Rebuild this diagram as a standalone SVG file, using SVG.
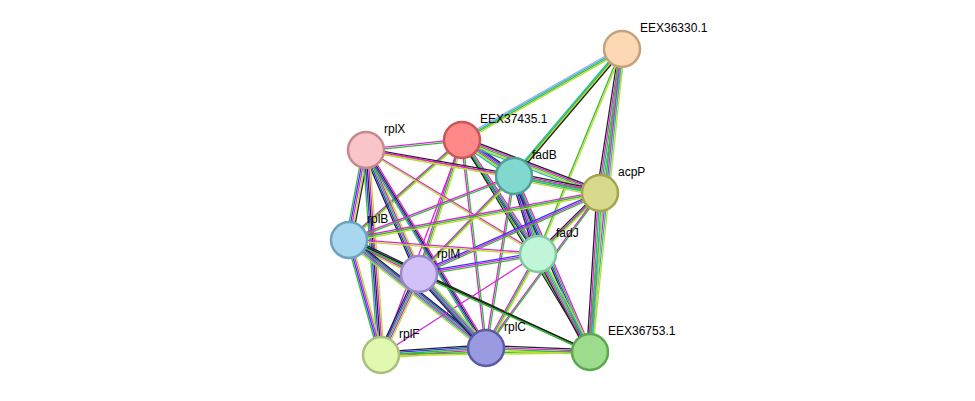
<svg xmlns="http://www.w3.org/2000/svg" width="975" height="401" viewBox="0 0 975 401">
<style>
line{stroke-width:1.3}
.k{stroke:#222}.b{stroke:#33f}.g{stroke:#3b3}.m{stroke:#d2d}.y{stroke:#bd3}.c{stroke:#2bb}.p{stroke:#aaf}
circle{stroke-width:2.5}
text{font-family:"Liberation Sans",Arial,sans-serif;font-size:12px;fill:#000}
</style>
<rect width="975" height="401" fill="#fff"/>
<g id="connectors">
<!-- A-E -->
<line class="p" x1="622" y1="49" x2="462" y2="140" transform="translate(0,-2.4)"/><line class="c" x1="622" y1="49" x2="462" y2="140" transform="translate(0,-0.8)"/><line class="g" x1="622" y1="49" x2="462" y2="140" transform="translate(0,0.8)"/><line class="y" x1="622" y1="49" x2="462" y2="140" transform="translate(0,2.4)"/>
<!-- A-F -->
<line class="c" x1="622" y1="49" x2="514" y2="176" transform="translate(-2.4,0)"/><line class="g" x1="622" y1="49" x2="514" y2="176" transform="translate(-0.8,0)"/><line class="y" x1="622" y1="49" x2="514" y2="176" transform="translate(0.8,0)"/><line class="k" x1="622" y1="49" x2="514" y2="176" transform="translate(2.4,0)"/>
<!-- A-P -->
<line class="k" x1="622" y1="49" x2="600" y2="193" transform="translate(-3.2,0)"/><line class="m" x1="622" y1="49" x2="600" y2="193" transform="translate(-1.6,0)"/><line class="g" x1="622" y1="49" x2="600" y2="193"/><line class="c" x1="622" y1="49" x2="600" y2="193" transform="translate(1.6,0)"/><line class="y" x1="622" y1="49" x2="600" y2="193" transform="translate(3.2,0)"/>
<!-- A-J -->
<line class="g" x1="622" y1="49" x2="538" y2="254" transform="translate(-0.8,0)"/><line class="y" x1="622" y1="49" x2="538" y2="254" transform="translate(0.8,0)"/>
<!-- A-G -->
<line class="g" x1="622" y1="49" x2="590" y2="352" transform="translate(-2.4,0)"/><line class="m" x1="622" y1="49" x2="590" y2="352" transform="translate(-0.8,0)"/><line class="c" x1="622" y1="49" x2="590" y2="352" transform="translate(0.8,0)"/><line class="y" x1="622" y1="49" x2="590" y2="352" transform="translate(2.4,0)"/>
<!-- E-X -->
<line class="m" x1="462" y1="140" x2="366" y2="150" transform="translate(0,-0.8)"/><line class="g" x1="462" y1="140" x2="366" y2="150" transform="translate(0,0.8)"/>
<!-- E-F -->
<line class="k" x1="462" y1="140" x2="514" y2="176" transform="translate(0,-4)"/><line class="b" x1="462" y1="140" x2="514" y2="176" transform="translate(0,-2.4)"/><line class="m" x1="462" y1="140" x2="514" y2="176" transform="translate(0,-0.8)"/><line class="g" x1="462" y1="140" x2="514" y2="176" transform="translate(0,0.8)"/><line class="y" x1="462" y1="140" x2="514" y2="176" transform="translate(0,2.4)"/><line class="c" x1="462" y1="140" x2="514" y2="176" transform="translate(0,4)"/>
<!-- E-P -->
<line class="k" x1="462" y1="140" x2="600" y2="193" transform="translate(0,-3.2)"/><line class="m" x1="462" y1="140" x2="600" y2="193" transform="translate(0,-1.6)"/><line class="g" x1="462" y1="140" x2="600" y2="193"/><line class="y" x1="462" y1="140" x2="600" y2="193" transform="translate(0,1.6)"/><line class="c" x1="462" y1="140" x2="600" y2="193" transform="translate(0,3.2)"/>
<!-- E-J -->
<line class="k" x1="462" y1="140" x2="538" y2="254" transform="translate(-2.4,0)"/><line class="b" x1="462" y1="140" x2="538" y2="254" transform="translate(-0.8,0)"/><line class="g" x1="462" y1="140" x2="538" y2="254" transform="translate(0.8,0)"/><line class="m" x1="462" y1="140" x2="538" y2="254" transform="translate(2.4,0)"/>
<!-- E-B -->
<line class="m" x1="462" y1="140" x2="349" y2="240" transform="translate(0,-1.6)"/><line class="g" x1="462" y1="140" x2="349" y2="240"/><line class="y" x1="462" y1="140" x2="349" y2="240" transform="translate(0,1.6)"/>
<!-- E-M -->
<line class="m" x1="462" y1="140" x2="419" y2="274" transform="translate(-1.6,0)"/><line class="g" x1="462" y1="140" x2="419" y2="274"/><line class="y" x1="462" y1="140" x2="419" y2="274" transform="translate(1.6,0)"/>
<!-- E-C -->
<line class="m" x1="462" y1="140" x2="486" y2="348" transform="translate(-0.8,0)"/><line class="g" x1="462" y1="140" x2="486" y2="348" transform="translate(0.8,0)"/>
<!-- E-G -->
<line class="k" x1="462" y1="140" x2="590" y2="352" transform="translate(-0.8,0)"/><line class="g" x1="462" y1="140" x2="590" y2="352" transform="translate(0.8,0)"/>
<!-- E-L -->
<line class="m" x1="462" y1="140" x2="381" y2="355"/>
<!-- X-F -->
<line class="k" x1="366" y1="150" x2="514" y2="176" transform="translate(0,-1.6)"/><line class="m" x1="366" y1="150" x2="514" y2="176"/><line class="y" x1="366" y1="150" x2="514" y2="176" transform="translate(0,1.6)"/>
<!-- X-P -->
<line class="m" x1="366" y1="150" x2="600" y2="193" transform="translate(0,-0.8)"/><line class="y" x1="366" y1="150" x2="600" y2="193" transform="translate(0,0.8)"/>
<!-- X-B -->
<line class="g" x1="366" y1="150" x2="349" y2="240" transform="translate(-3.2,0)"/><line class="b" x1="366" y1="150" x2="349" y2="240" transform="translate(-1.6,0)"/><line class="m" x1="366" y1="150" x2="349" y2="240"/><line class="y" x1="366" y1="150" x2="349" y2="240" transform="translate(1.6,0)"/><line class="k" x1="366" y1="150" x2="349" y2="240" transform="translate(3.2,0)"/>
<!-- X-M -->
<line class="k" x1="366" y1="150" x2="419" y2="274" transform="translate(-3.2,0)"/><line class="b" x1="366" y1="150" x2="419" y2="274" transform="translate(-1.6,0)"/><line class="g" x1="366" y1="150" x2="419" y2="274"/><line class="m" x1="366" y1="150" x2="419" y2="274" transform="translate(1.6,0)"/><line class="y" x1="366" y1="150" x2="419" y2="274" transform="translate(3.2,0)"/>
<!-- X-L -->
<line class="g" x1="366" y1="150" x2="381" y2="355" transform="translate(-3.2,0)"/><line class="b" x1="366" y1="150" x2="381" y2="355" transform="translate(-1.6,0)"/><line class="k" x1="366" y1="150" x2="381" y2="355"/><line class="m" x1="366" y1="150" x2="381" y2="355" transform="translate(1.6,0)"/><line class="y" x1="366" y1="150" x2="381" y2="355" transform="translate(3.2,0)"/>
<!-- X-C -->
<line class="g" x1="366" y1="150" x2="486" y2="348" transform="translate(-2.4,0)"/><line class="b" x1="366" y1="150" x2="486" y2="348" transform="translate(-0.8,0)"/><line class="k" x1="366" y1="150" x2="486" y2="348" transform="translate(0.8,0)"/><line class="m" x1="366" y1="150" x2="486" y2="348" transform="translate(2.4,0)"/>
<!-- X-J -->
<line class="m" x1="366" y1="150" x2="538" y2="254" transform="translate(0,-0.8)"/><line class="y" x1="366" y1="150" x2="538" y2="254" transform="translate(0,0.8)"/>
<!-- F-P -->
<line class="k" x1="514" y1="176" x2="600" y2="193" transform="translate(0,-3.2)"/><line class="m" x1="514" y1="176" x2="600" y2="193" transform="translate(0,-1.6)"/><line class="g" x1="514" y1="176" x2="600" y2="193"/><line class="c" x1="514" y1="176" x2="600" y2="193" transform="translate(0,1.6)"/><line class="y" x1="514" y1="176" x2="600" y2="193" transform="translate(0,3.2)"/>
<!-- F-J -->
<line class="k" x1="514" y1="176" x2="538" y2="254" transform="translate(-3.2,0)"/><line class="b" x1="514" y1="176" x2="538" y2="254" transform="translate(-1.6,0)"/><line class="m" x1="514" y1="176" x2="538" y2="254"/><line class="g" x1="514" y1="176" x2="538" y2="254" transform="translate(1.6,0)"/><line class="c" x1="514" y1="176" x2="538" y2="254" transform="translate(3.2,0)"/>
<!-- F-B -->
<line class="m" x1="514" y1="176" x2="349" y2="240" transform="translate(0,-0.8)"/><line class="g" x1="514" y1="176" x2="349" y2="240" transform="translate(0,0.8)"/>
<!-- F-M -->
<line class="m" x1="514" y1="176" x2="419" y2="274" transform="translate(0,-1.6)"/><line class="g" x1="514" y1="176" x2="419" y2="274"/><line class="y" x1="514" y1="176" x2="419" y2="274" transform="translate(0,1.6)"/>
<!-- F-G -->
<line class="k" x1="514" y1="176" x2="590" y2="352" transform="translate(-2.4,0)"/><line class="b" x1="514" y1="176" x2="590" y2="352" transform="translate(-0.8,0)"/><line class="g" x1="514" y1="176" x2="590" y2="352" transform="translate(0.8,0)"/><line class="m" x1="514" y1="176" x2="590" y2="352" transform="translate(2.4,0)"/>
<!-- F-C -->
<line class="m" x1="514" y1="176" x2="486" y2="348" transform="translate(-0.8,0)"/><line class="g" x1="514" y1="176" x2="486" y2="348" transform="translate(0.8,0)"/>
<!-- P-J -->
<line class="k" x1="600" y1="193" x2="538" y2="254" transform="translate(0,-2.4)"/><line class="m" x1="600" y1="193" x2="538" y2="254" transform="translate(0,-0.8)"/><line class="g" x1="600" y1="193" x2="538" y2="254" transform="translate(0,0.8)"/><line class="y" x1="600" y1="193" x2="538" y2="254" transform="translate(0,2.4)"/>
<!-- P-B -->
<line class="m" x1="600" y1="193" x2="349" y2="240" transform="translate(0,-1.6)"/><line class="g" x1="600" y1="193" x2="349" y2="240"/><line class="y" x1="600" y1="193" x2="349" y2="240" transform="translate(0,1.6)"/>
<!-- P-M -->
<line class="b" x1="600" y1="193" x2="419" y2="274" transform="translate(0,-1.6)"/><line class="m" x1="600" y1="193" x2="419" y2="274"/><line class="g" x1="600" y1="193" x2="419" y2="274" transform="translate(0,1.6)"/>
<!-- P-G -->
<line class="k" x1="600" y1="193" x2="590" y2="352" transform="translate(-3.2,0)"/><line class="m" x1="600" y1="193" x2="590" y2="352" transform="translate(-1.6,0)"/><line class="g" x1="600" y1="193" x2="590" y2="352"/><line class="c" x1="600" y1="193" x2="590" y2="352" transform="translate(1.6,0)"/><line class="y" x1="600" y1="193" x2="590" y2="352" transform="translate(3.2,0)"/>
<!-- P-C -->
<line class="m" x1="600" y1="193" x2="486" y2="348" transform="translate(-0.8,0)"/><line class="g" x1="600" y1="193" x2="486" y2="348" transform="translate(0.8,0)"/>
<!-- B-M -->
<line class="k" x1="349" y1="240" x2="419" y2="274" transform="translate(0,-3.2)"/><line class="b" x1="349" y1="240" x2="419" y2="274" transform="translate(0,-1.6)"/><line class="g" x1="349" y1="240" x2="419" y2="274"/><line class="m" x1="349" y1="240" x2="419" y2="274" transform="translate(0,1.6)"/><line class="y" x1="349" y1="240" x2="419" y2="274" transform="translate(0,3.2)"/>
<!-- B-L -->
<line class="g" x1="349" y1="240" x2="381" y2="355" transform="translate(-2.4,0)"/><line class="b" x1="349" y1="240" x2="381" y2="355" transform="translate(-0.8,0)"/><line class="m" x1="349" y1="240" x2="381" y2="355" transform="translate(0.8,0)"/><line class="y" x1="349" y1="240" x2="381" y2="355" transform="translate(2.4,0)"/>
<!-- B-C -->
<line class="k" x1="349" y1="240" x2="486" y2="348" transform="translate(0,-4)"/><line class="b" x1="349" y1="240" x2="486" y2="348" transform="translate(0,-2.4)"/><line class="g" x1="349" y1="240" x2="486" y2="348" transform="translate(0,-0.8)"/><line class="m" x1="349" y1="240" x2="486" y2="348" transform="translate(0,0.8)"/><line class="c" x1="349" y1="240" x2="486" y2="348" transform="translate(0,2.4)"/><line class="y" x1="349" y1="240" x2="486" y2="348" transform="translate(0,4)"/>
<!-- B-G -->
<line class="k" x1="349" y1="240" x2="590" y2="352" transform="translate(0,-0.8)"/><line class="g" x1="349" y1="240" x2="590" y2="352" transform="translate(0,0.8)"/>
<!-- B-J -->
<line class="m" x1="349" y1="240" x2="538" y2="254" transform="translate(0,-0.8)"/><line class="y" x1="349" y1="240" x2="538" y2="254" transform="translate(0,0.8)"/>
<!-- J-M -->
<line class="b" x1="538" y1="254" x2="419" y2="274" transform="translate(0,-1.6)"/><line class="m" x1="538" y1="254" x2="419" y2="274"/><line class="g" x1="538" y1="254" x2="419" y2="274" transform="translate(0,1.6)"/>
<!-- J-C -->
<line class="m" x1="538" y1="254" x2="486" y2="348" transform="translate(-1.6,0)"/><line class="g" x1="538" y1="254" x2="486" y2="348"/><line class="y" x1="538" y1="254" x2="486" y2="348" transform="translate(1.6,0)"/>
<!-- J-G -->
<line class="k" x1="538" y1="254" x2="590" y2="352" transform="translate(-3.2,0)"/><line class="m" x1="538" y1="254" x2="590" y2="352" transform="translate(-1.6,0)"/><line class="g" x1="538" y1="254" x2="590" y2="352"/><line class="c" x1="538" y1="254" x2="590" y2="352" transform="translate(1.6,0)"/><line class="y" x1="538" y1="254" x2="590" y2="352" transform="translate(3.2,0)"/>
<!-- J-L -->
<line class="m" x1="538" y1="254" x2="381" y2="355"/>
<!-- M-L -->
<line class="k" x1="419" y1="274" x2="381" y2="355" transform="translate(-3.2,0)"/><line class="b" x1="419" y1="274" x2="381" y2="355" transform="translate(-1.6,0)"/><line class="g" x1="419" y1="274" x2="381" y2="355"/><line class="m" x1="419" y1="274" x2="381" y2="355" transform="translate(1.6,0)"/><line class="y" x1="419" y1="274" x2="381" y2="355" transform="translate(3.2,0)"/>
<!-- M-C -->
<line class="k" x1="419" y1="274" x2="486" y2="348" transform="translate(-4,0)"/><line class="b" x1="419" y1="274" x2="486" y2="348" transform="translate(-2.4,0)"/><line class="g" x1="419" y1="274" x2="486" y2="348" transform="translate(-0.8,0)"/><line class="m" x1="419" y1="274" x2="486" y2="348" transform="translate(0.8,0)"/><line class="c" x1="419" y1="274" x2="486" y2="348" transform="translate(2.4,0)"/><line class="y" x1="419" y1="274" x2="486" y2="348" transform="translate(4,0)"/>
<!-- M-G -->
<line class="k" x1="419" y1="274" x2="590" y2="352" transform="translate(0,-0.8)"/><line class="g" x1="419" y1="274" x2="590" y2="352" transform="translate(0,0.8)"/>
<!-- L-C -->
<line class="k" x1="381" y1="355" x2="486" y2="348" transform="translate(0,-3.2)"/><line class="b" x1="381" y1="355" x2="486" y2="348" transform="translate(0,-1.6)"/><line class="g" x1="381" y1="355" x2="486" y2="348"/><line class="m" x1="381" y1="355" x2="486" y2="348" transform="translate(0,1.6)"/><line class="y" x1="381" y1="355" x2="486" y2="348" transform="translate(0,3.2)"/>
<!-- L-G -->
<line class="g" x1="381" y1="355" x2="590" y2="352" transform="translate(0,-0.8)"/><line class="y" x1="381" y1="355" x2="590" y2="352" transform="translate(0,0.8)"/>
<!-- C-G -->
<line class="k" x1="486" y1="348" x2="590" y2="352" transform="translate(0,-2.4)"/><line class="m" x1="486" y1="348" x2="590" y2="352" transform="translate(0,-0.8)"/><line class="g" x1="486" y1="348" x2="590" y2="352" transform="translate(0,0.8)"/><line class="y" x1="486" y1="348" x2="590" y2="352" transform="translate(0,2.4)"/>
</g>
<g id="EEX36330.1"><circle cx="622" cy="49" r="18" fill="#fdd8b4" stroke="#c8a07c"/><text x="640" y="32">EEX36330.1</text></g>
<g id="EEX37435.1"><circle cx="462" cy="140" r="18" fill="#f88" stroke="#c55"/><text x="480" y="123">EEX37435.1</text></g>
<g id="rplX"><circle cx="366" cy="150" r="18" fill="#f9c5c8" stroke="#c48a8e"/><text x="384" y="133">rplX</text></g>
<g id="fadB"><circle cx="514" cy="176" r="18" fill="#80d8cf" stroke="#50a098"/><text x="532" y="159">fadB</text></g>
<g id="acpP"><circle cx="600" cy="193" r="18" fill="#d9d98c" stroke="#a5a550"/><text x="618" y="176">acpP</text></g>
<g id="rplB"><circle cx="349" cy="240" r="18" fill="#a8d8f0" stroke="#6fa2c0"/><text x="367" y="223">rplB</text></g>
<g id="fadJ"><circle cx="538" cy="254" r="18" fill="#c0f5d8" stroke="#80c8a0"/><text x="556" y="237">fadJ</text></g>
<g id="rplM"><circle cx="419" cy="274" r="18" fill="#d2c0f8" stroke="#9a88c8"/><text x="437" y="258">rplM</text></g>
<g id="rplF"><circle cx="381" cy="355" r="18" fill="#e0f8b0" stroke="#a8c07c"/><text x="399" y="338">rplF</text></g>
<g id="rplC"><circle cx="486" cy="348" r="18" fill="#9a9ae0" stroke="#5a5aa8"/><text x="504" y="331">rplC</text></g>
<g id="EEX36753.1"><circle cx="590" cy="352" r="18" fill="#9cdc8c" stroke="#5ca850"/><text x="608" y="335">EEX36753.1</text></g>
</svg>
